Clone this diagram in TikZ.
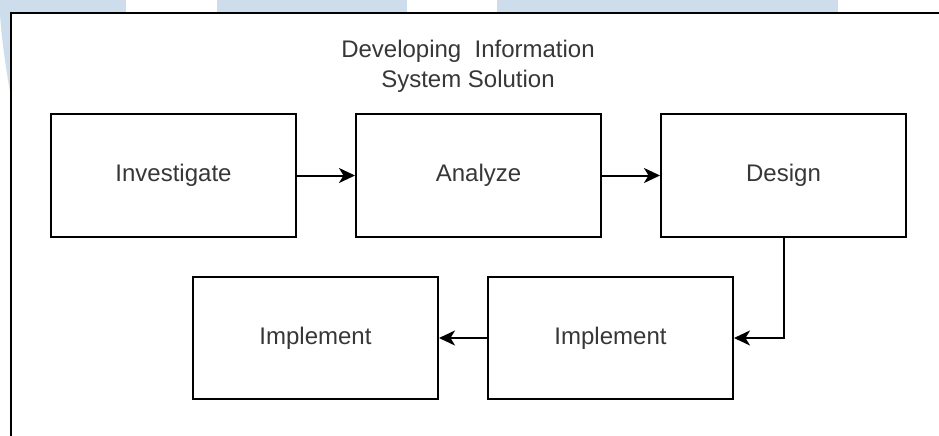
\documentclass[tikz,border=0pt]{standalone}
\usepackage{fontspec}
\setmainfont{Liberation Sans}
\usetikzlibrary{arrows.meta}
\definecolor{wmblue}{RGB}{205,221,236}
\definecolor{txtgray}{RGB}{55,55,55}
\tikzset{
  stepbox/.style={draw=black, line width=2pt, fill=white, minimum width=245pt, minimum height=123pt, inner sep=0pt, font=\fontsize{24}{28}\selectfont, text=txtgray},
  flow/.style={line width=2pt, -{Stealth[length=16pt,width=15pt,inset=4.5pt]}}
}
\begin{document}
\begin{tikzpicture}[x=1pt,y=-1pt]
\useasboundingbox (0,0) rectangle (939,436);
\begin{scope}
\clip (0,0) rectangle (939,436);
% watermark bands
\fill[wmblue] (0,0) rectangle (126,13);
\fill[wmblue] (217,0) rectangle (407,13);
\fill[wmblue] (497,0) rectangle (838,13);
\fill[wmblue] (0,13) -- (11,13) -- (11,97) .. controls (6,70) and (1,35) .. (0,13) -- cycle;
% outer frame
\fill[white] (11,13) rectangle (945,445);
\draw[line width=2.2pt] (945,13) -- (11,13) -- (11,445);
\end{scope}
% title
\node[anchor=north, inner sep=0pt, align=center, text=txtgray, font=\fontsize{24}{30}\selectfont] (title) at (468,39.5) {Developing\ \ Information\\System Solution};
% boxes
\node[stepbox] (inv) at (173.5,175.5) {Investigate};
\node[stepbox] (ana) at (478.5,175.5) {Analyze};
\node[stepbox] (des) at (783.5,175.5) {Design};
\node[stepbox, minimum height=122pt] (impL) at (315.5,338) {Implement};
\node[stepbox, minimum height=122pt] (impR) at (610.5,338) {Implement};
% connectors
\draw[flow] (inv) -- (ana);
\draw[flow] (ana) -- (des);
\draw[flow] (des.south) |- (impR.east);
\draw[flow] (impR) -- (impL);
\end{tikzpicture}
\end{document}
